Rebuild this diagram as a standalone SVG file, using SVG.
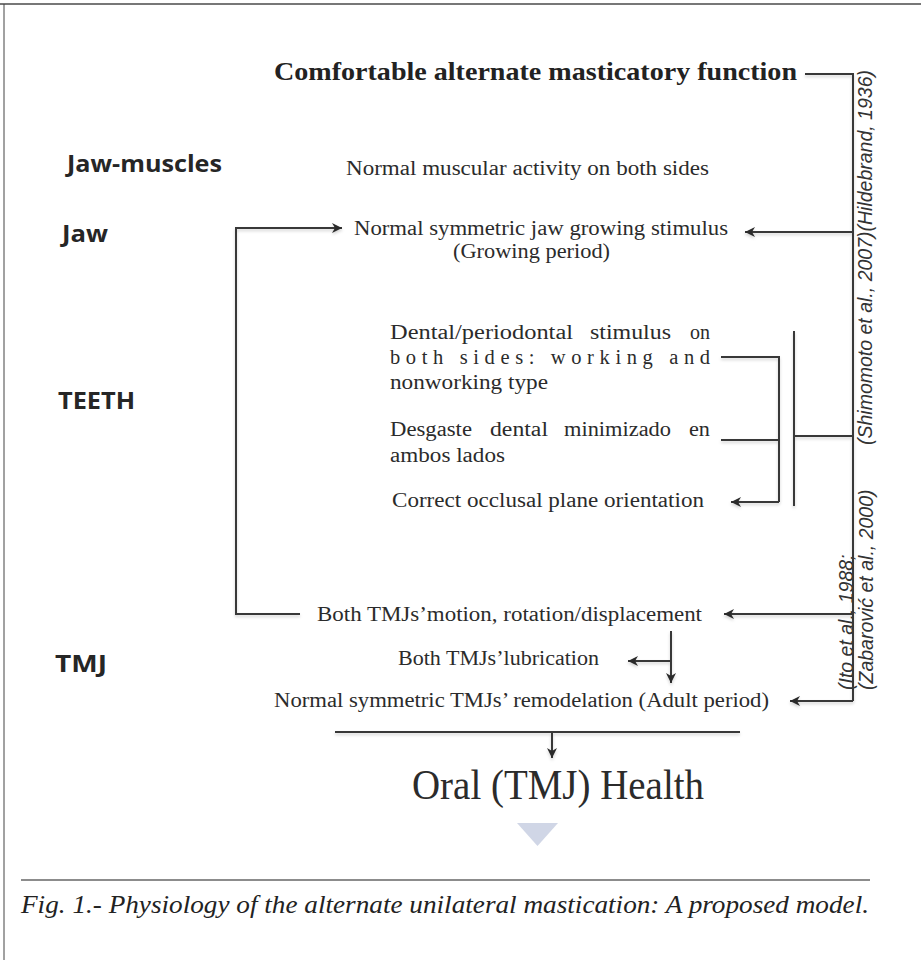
<svg xmlns="http://www.w3.org/2000/svg" width="921" height="960" viewBox="0 0 921 960">
<style>
.body{font-family:"Liberation Serif","Times New Roman",serif;font-size:20.5px;fill:#2b2b2b}
.title{font-family:"Liberation Serif","Times New Roman",serif;font-size:25px;font-weight:bold;fill:#222}
.lab{font-family:"Open Sans","Liberation Sans",sans-serif;font-size:24px;font-weight:bold;fill:#262626}
.ref{font-family:"Liberation Sans",Arial,sans-serif;font-size:19.5px;font-style:italic;fill:#333}
.cap{font-family:"Liberation Serif","Times New Roman",serif;font-size:25px;font-style:italic;fill:#222}
.ln{fill:none;stroke:#383838;stroke-width:2}
.arr{fill:none;stroke:#383838;stroke-width:2;marker-end:url(#ah)}
</style>
<defs>
<marker id="ah" viewBox="0 0 10 10" refX="10" refY="5" markerWidth="12" markerHeight="10" markerUnits="userSpaceOnUse" orient="auto">
<path d="M0,0 L10,5 L0,10 L3,5 z" fill="#2a2a2a"/>
</marker>
<filter id="sh" x="-5%" y="-5%" width="110%" height="110%">
<feDropShadow dx="0" dy="2" stdDeviation="1.5" flood-color="#000" flood-opacity="0.18"/>
</filter>
</defs>
<rect width="921" height="960" fill="#fff"/>
<g id="frame">
<line x1="0" y1="4" x2="921" y2="4" stroke="#777" stroke-width="2"/>
<line x1="4" y1="4" x2="4" y2="960" stroke="#444" stroke-width="1"/>
</g>
<g id="labels">
<text class="lab" x="67" y="172" textLength="155" lengthAdjust="spacingAndGlyphs">Jaw-muscles</text>
<text class="lab" x="62" y="242" textLength="46" lengthAdjust="spacingAndGlyphs">Jaw</text>
<text class="lab" x="58" y="409" textLength="77" lengthAdjust="spacingAndGlyphs">TEETH</text>
<text class="lab" x="55" y="672" textLength="52" lengthAdjust="spacingAndGlyphs">TMJ</text>
</g>
<g id="n-title"><text class="title" x="274" y="80" textLength="523" lengthAdjust="spacingAndGlyphs">Comfortable alternate masticatory function</text></g>
<g id="n-muscle"><text class="body" x="346" y="175" textLength="363" lengthAdjust="spacingAndGlyphs">Normal muscular activity on both sides</text></g>
<g id="n-jaw">
<text class="body" x="354" y="235" textLength="374" lengthAdjust="spacingAndGlyphs">Normal symmetric jaw growing stimulus</text>
<text class="body" x="453" y="258" textLength="157" lengthAdjust="spacingAndGlyphs">(Growing period)</text>
</g>
<g id="n-dental">
<text class="body" y="339"><tspan x="390" textLength="183" lengthAdjust="spacingAndGlyphs">Dental/periodontal</tspan><tspan x="590" textLength="81" lengthAdjust="spacingAndGlyphs">stimulus</tspan><tspan x="690" textLength="20" lengthAdjust="spacingAndGlyphs">on</tspan></text>
<text class="body" x="390" y="364" textLength="320" lengthAdjust="spacing">both sides: working and</text>
<text class="body" x="390" y="389" textLength="158" lengthAdjust="spacingAndGlyphs">nonworking type</text>
</g>
<g id="n-wear">
<text class="body" y="436"><tspan x="390" textLength="82" lengthAdjust="spacingAndGlyphs">Desgaste</tspan><tspan x="490" textLength="58" lengthAdjust="spacingAndGlyphs">dental</tspan><tspan x="564" textLength="107" lengthAdjust="spacingAndGlyphs">minimizado</tspan><tspan x="689" textLength="21" lengthAdjust="spacingAndGlyphs">en</tspan></text>
<text class="body" x="390" y="462" textLength="115" lengthAdjust="spacingAndGlyphs">ambos lados</text>
</g>
<g id="n-occlusal"><text class="body" x="392" y="507" textLength="312" lengthAdjust="spacingAndGlyphs">Correct occlusal plane orientation</text></g>
<g id="n-motion"><text class="body" x="317" y="621" textLength="385" lengthAdjust="spacingAndGlyphs">Both TMJs’motion, rotation/displacement</text></g>
<g id="n-lubric"><text class="body" x="398" y="665" textLength="201" lengthAdjust="spacingAndGlyphs">Both TMJs’lubrication</text></g>
<g id="n-remodel"><text class="body" x="274" y="707" textLength="495" lengthAdjust="spacingAndGlyphs">Normal symmetric TMJs’ remodelation (Adult period)</text></g>
<g id="n-health"><text class="body" x="412" y="799" style="font-size:43px" textLength="292" lengthAdjust="spacingAndGlyphs">Oral (TMJ) Health</text></g>
<g id="refs">
<text class="ref" transform="translate(872,445) rotate(-90)" textLength="375" lengthAdjust="spacingAndGlyphs">(Shimomoto et al., 2007)(Hildebrand, 1936)</text>
<text class="ref" transform="translate(853,690) rotate(-90)">(Ito et al., 1988;</text>
<text class="ref" transform="translate(873,690) rotate(-90)">(Zabarović et al., 2000)</text>
</g>
<g id="connectors" filter="url(#sh)">
<path class="ln" d="M805,74 H853 V701"/>
<path class="arr" d="M853,232 H745"/>
<path class="arr" d="M300,614 H236 V228 H342"/>
<path class="ln" d="M721,357 H779 V502"/>
<path class="arr" d="M779,502 H731"/>
<path class="ln" d="M721,440 H779"/>
<path class="ln" d="M794,331 V506"/>
<path class="ln" d="M794,436 H853"/>
<path class="arr" d="M853,614 H724"/>
<path class="arr" d="M671,631 V683"/>
<path class="arr" d="M671,661 H628"/>
<path class="arr" d="M853,701 H790"/>
<path class="ln" d="M335,732 H740"/>
<path class="arr" d="M552,732 V758"/>
</g>
<g id="triangle"><polygon points="517,823 558,823 537.5,846" fill="#d0d6e6"/></g>
<g id="caption">
<line x1="21" y1="880" x2="870" y2="880" stroke="#666" stroke-width="1.5"/>
<text class="cap" x="21" y="913" textLength="848" lengthAdjust="spacingAndGlyphs">Fig. 1.- Physiology of the alternate unilateral mastication: A proposed model.</text>
</g>
</svg>
